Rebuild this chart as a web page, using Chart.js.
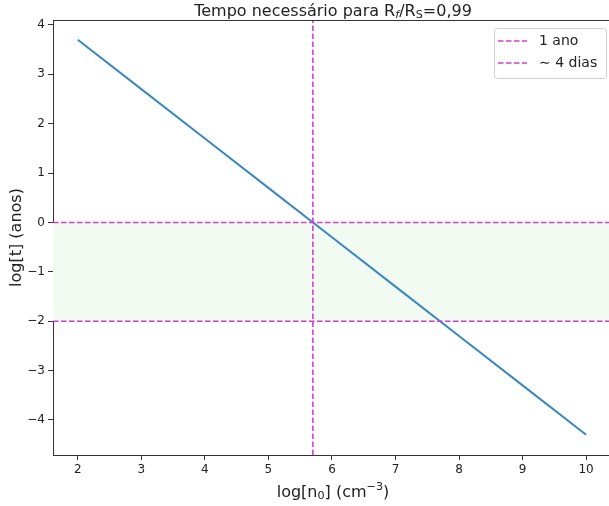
<!DOCTYPE html>
<html>
<head>
<meta charset="utf-8">
<script src="https://cdn.jsdelivr.net/npm/chart.js@4.4.0/dist/chart.umd.min.js"></script>
<style>
  body { margin: 0; background: #fff; }
  #wrap { width: 609px; height: 506px; }
</style>
</head>
<body>
<div id="wrap"><canvas id="grafico" width="609" height="506"></canvas></div>
<script>
// dados
const logN0 = [2, 3, 4, 5, 6, 7, 8, 9, 10];
const logT = [3.7, 2.7, 1.7, 0.7, -0.3, -1.3, -2.3, -3.3, -4.3];
const nCorte = 5.7;
const tUmAno = 0;
const tQuatroDias = -2;
const xTicks = [2, 3, 4, 5, 6, 7, 8, 9, 10];
const yTicks = [-4, -3, -2, -1, 0, 1, 2, 3, 4];
const legendas = ['1 ano', '\u223C 4 dias'];

const xMin = 1.61, xMax = 10.36;
const yMin = -4.71, yMax = 4.1;

const azul = '#3a87c2';
const magenta = '#d23fd2';
const verde = '#f1fbf1';
const fonte = "'DejaVu Sans', sans-serif";

function desenharTexto(ctx, partes, cx, cy, tam) {
    // partes: [texto, tipo] com tipo '', 'sub', 'sup', 'subi'
    let total = 0;
    const medidas = partes.map(p => {
        const t = p[1] ? tam * 0.7 : tam;
        ctx.font = (p[1] === 'subi' ? 'italic ' : '') + t + 'px ' + fonte;
        const w = ctx.measureText(p[0]).width;
        total += w;
        return { t, w };
    });
    let x = cx - total / 2;
    ctx.textBaseline = 'alphabetic';
    ctx.textAlign = 'left';
    partes.forEach((p, i) => {
        const m = medidas[i];
        ctx.font = (p[1] === 'subi' ? 'italic ' : '') + m.t + 'px ' + fonte;
        let dy = 0;
        if (p[1] === 'sub' || p[1] === 'subi') dy = tam * 0.15;
        if (p[1] === 'sup') dy = -tam * 0.42;
        ctx.fillText(p[0], x, cy + dy);
        x += m.w;
    });
}

const extras = {
    id: 'extras',
    afterDraw(chart) {
        const ctx = chart.ctx;
        const a = chart.chartArea;
        ctx.save();
        // borda superior
        ctx.strokeStyle = '#333';
        ctx.lineWidth = 1;
        ctx.beginPath();
        ctx.moveTo(a.left, a.top + 0.5);
        ctx.lineTo(a.right, a.top + 0.5);
        ctx.stroke();

        ctx.fillStyle = '#222';
        const cx = (a.left + 613) / 2;
        desenharTexto(ctx, [['Tempo necessário para R', ''], ['f', 'subi'], ['/R', ''], ['S', 'sub'], ['=0,99', '']], cx, 16, 16);
        desenharTexto(ctx, [['log[n', ''], ['0', 'sub'], ['] (cm', ''], ['\u22123', 'sup'], [')', '']], cx, 497, 16);

        ctx.save();
        ctx.translate(21, (a.top + a.bottom) / 2);
        ctx.rotate(-Math.PI / 2);
        ctx.font = '16px ' + fonte;
        ctx.textAlign = 'center';
        ctx.textBaseline = 'alphabetic';
        ctx.fillText('log[t] (anos)', 0, 0);
        ctx.restore();

        // legenda
        const bx = 494.5, by = 28.5, bw = 112, bh = 50;
        ctx.fillStyle = 'rgba(255,255,255,0.85)';
        ctx.strokeStyle = '#d0d0d0';
        ctx.beginPath();
        ctx.roundRect(bx, by, bw, bh, 3);
        ctx.fill();
        ctx.stroke();
        ctx.font = '14px ' + fonte;
        ctx.textBaseline = 'middle';
        ctx.textAlign = 'left';
        legendas.forEach((txt, i) => {
            const y = 41 + i * 22;
            ctx.strokeStyle = magenta;
            ctx.lineWidth = 1.6;
            ctx.setLineDash([5.5, 2.5]);
            ctx.beginPath();
            ctx.moveTo(498, y);
            ctx.lineTo(527, y);
            ctx.stroke();
            ctx.setLineDash([]);
            ctx.fillStyle = '#222';
            ctx.fillText(txt, 539, y);
        });
        ctx.restore();
    }
};

const ctx = document.getElementById('grafico');
new Chart(ctx, {
    type: 'scatter',
    data: {
        datasets: [
            {
                label: legendas[0],
                data: [{ x: xMin, y: tUmAno }, { x: xMax, y: tUmAno }],
                showLine: true,
                borderColor: magenta,
                borderWidth: 1.6,
                borderDash: [5.5, 2.5],
                pointRadius: 0,
                fill: '+1',
                backgroundColor: verde
            },
            {
                label: legendas[1],
                data: [{ x: xMin, y: tQuatroDias }, { x: xMax, y: tQuatroDias }],
                showLine: true,
                borderColor: magenta,
                borderWidth: 1.6,
                borderDash: [5.5, 2.5],
                pointRadius: 0,
                fill: false
            },
            {
                label: 'corte',
                data: [{ x: nCorte, y: yMin }, { x: nCorte, y: yMax }],
                showLine: true,
                borderColor: magenta,
                borderWidth: 1.6,
                borderDash: [5.5, 2.5],
                pointRadius: 0,
                fill: false
            },
            {
                label: 'log t',
                data: logN0.map((v, i) => ({ x: v, y: logT[i] })),
                showLine: true,
                borderColor: azul,
                borderWidth: 2,
                pointRadius: 0,
                fill: false
            }
        ]
    },
    options: {
        responsive: false,
        animation: false,
        layout: { padding: { top: 20, left: 0, right: 0, bottom: 0 } },
        plugins: {
            legend: { display: false },
            tooltip: { enabled: false },
            title: { display: false },
            filler: { drawTime: 'beforeDatasetsDraw' }
        },
        scales: {
            x: {
                type: 'linear',
                min: xMin,
                max: xMax,
                afterBuildTicks: axis => { axis.ticks = xTicks.map(v => ({ value: v })); },
                afterFit: axis => { axis.height = 51; },
                grid: { drawOnChartArea: false, drawTicks: true, tickLength: 5, color: '#333' },
                border: { color: '#333', width: 1 },
                ticks: { color: '#222', font: { family: fonte, size: 12 }, padding: 3, maxRotation: 0 }
            },
            y: {
                type: 'linear',
                min: yMin,
                max: yMax,
                afterBuildTicks: axis => { axis.ticks = yTicks.map(v => ({ value: v })); },
                afterFit: axis => { axis.width = 53; },
                grid: { drawOnChartArea: false, drawTicks: true, tickLength: 5, color: '#333' },
                border: { color: '#333', width: 1 },
                ticks: {
                    color: '#222',
                    font: { family: fonte, size: 12 },
                    padding: 3,
                    callback: v => String(v).replace('-', '\u2212')
                }
            }
        }
    },
    plugins: [extras]
});
</script>
</body>
</html>
